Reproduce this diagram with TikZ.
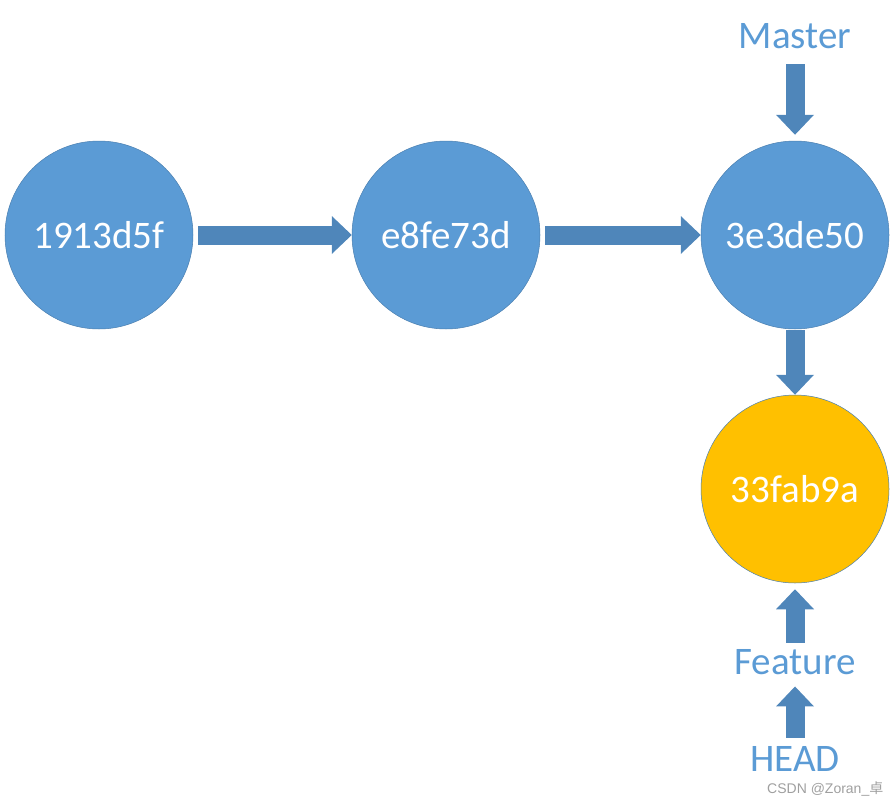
\documentclass[tikz,border=0pt]{standalone}
\usepackage{fontspec}
\setmainfont{Carlito}
\newfontfamily\markfont{Liberation Sans}
\newfontfamily\cjkfont{Noto Sans CJK SC}
\usetikzlibrary{arrows.meta}
\definecolor{commitblue}{HTML}{5B9BD5}
\definecolor{commitedge}{HTML}{4A7FB0}
\definecolor{arrowblue}{HTML}{4F86BA}
\definecolor{headgold}{HTML}{FFC000}

\begin{document}
\begin{tikzpicture}[x=1pt, y=-1pt, font=\fontsize{39}{45}\selectfont,
    commit/.style={circle, minimum size=188pt, inner sep=0pt, fill=commitblue,
      draw=commitedge, line width=0.5pt, text=white},
    refname/.style={anchor=base, inner sep=0pt, text=commitblue},
    blockarrow/.style={arrowblue, line width=19pt,
      -{Triangle[width=38pt, length=20pt, line width=0pt]}}]
  \useasboundingbox (0,0) rectangle (896,803);
  % commits
  \node[commit] (c1) at (99,235) {1913d5f};
  \node[commit] (c2) at (446,235) {e8fe73d};
  \node[commit] (c3) at (795,235) {3e3de50};
  \node[commit, fill=headgold] (c4) at (795,489) {33fab9a};
  % branch names
  \node[refname] (master) at (795,48) {Master};
  \node[refname] (feature) at (795,674) {Feature};
  \node[refname] (head) at (795,771) {HEAD};
  % history
  \draw[blockarrow, shorten <=5pt] (c1) -- (c2);
  \draw[blockarrow, shorten <=5pt] (c2) -- (c3);
  \draw[blockarrow, shorten <=1pt] (c3) -- (c4);
  % pointers
  \draw[blockarrow, shorten <=16pt, shorten >=6pt] (master) -- (c3);
  \draw[blockarrow, shorten <=6pt, shorten >=6pt] (feature) -- (c4);
  \draw[blockarrow, shorten <=8pt, shorten >=12pt] (head) -- (feature);
  \node[anchor=base west, inner sep=0pt, text=gray!75,
    font=\markfont\fontsize{14}{16}\selectfont] (mark) at (767,793)
    {CSDN @Zoran\_{\cjkfont 卓}};
\end{tikzpicture}
\end{document}
